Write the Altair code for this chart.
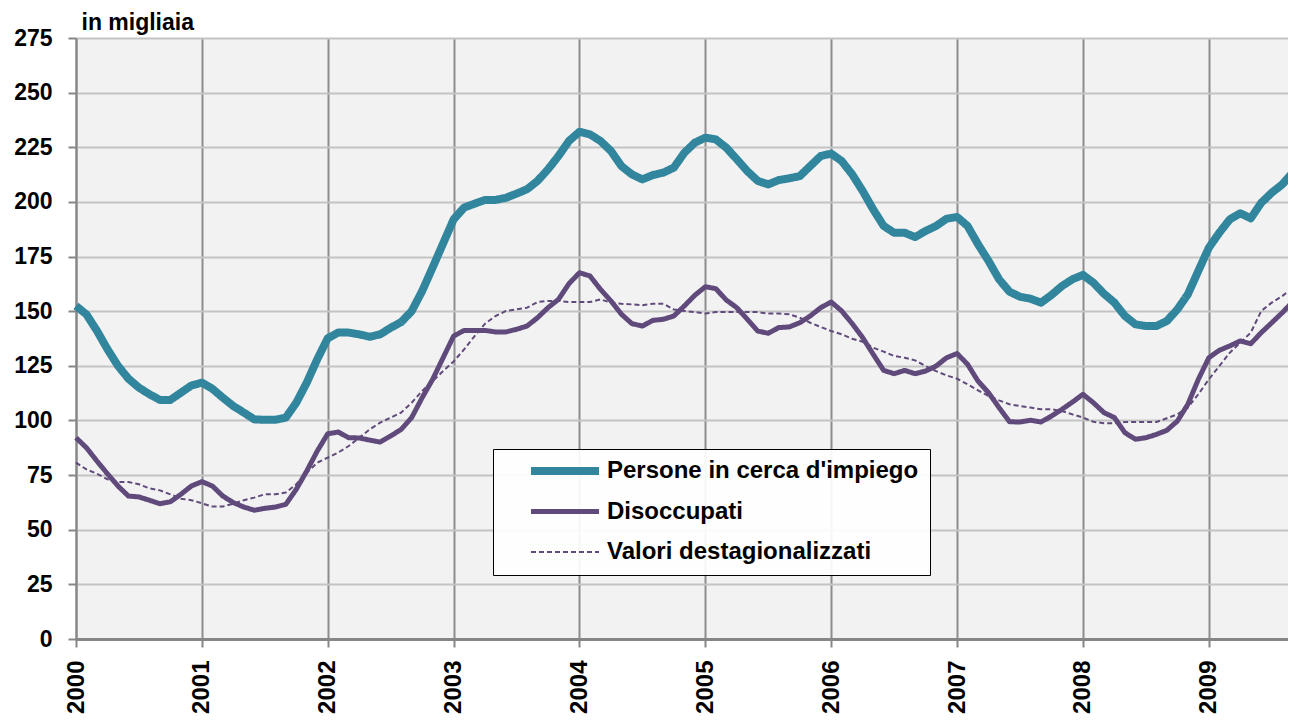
import altair as alt
import pandas as pd

series_names = ["Persone in cerca d'impiego", "Disoccupati", "Valori destagionalizzati"]
series_colors = ["#31859C", "#604A7B", "#604A7B"]
series_widths = [8, 5, 2]
series_dash = [[1, 0], [1, 0], [5, 3]]
draw_order = ["Persone in cerca d'impiego", "Valori destagionalizzati", "Disoccupati"]

# monthly values, Jan 2000 .. Sep 2009 (thousands)
persone = [
    152.4, 148.5, 141, 132.6, 125, 119.1, 115, 112, 109.4, 109.4, 112.7, 116,
    117.3, 114.5, 110.4, 106.6, 103.6, 100.5, 100.3, 100.3, 101.3, 108.1, 117.3, 128,
    137.6, 140.2, 140.2, 139.4, 138.3, 139.4, 142.4, 145, 150, 159.2, 170, 181,
    192, 197.4, 199.2, 200.9, 200.9, 201.9, 203.8, 205.8, 209.6, 214.9, 221, 227.9,
    232.1, 230.9, 227.9, 223.3, 216.4, 212.6, 210.3, 212.3, 213.4, 215.7, 222.5, 227.1,
    229.4, 228.6, 224.8, 219.5, 214.1, 209.6, 208, 210, 210.8, 211.8, 216.4, 221,
    222.1, 218.7, 212.6, 205, 196.6, 189, 185.9, 185.9, 183.9, 186.7, 189, 192.3,
    193.1, 189, 180.6, 173, 164.6, 158.9, 156.6, 155.7, 153.9, 157.4, 161.5, 164.6,
    166.6, 163, 158, 153.9, 147.8, 144, 143.2, 143.2, 145.5, 150.8, 157.7, 168.4,
    179, 185.9, 192, 194.8, 192.5, 199.6, 204.2, 208, 213.4,
]
disoccupati = [
    92.1, 87.5, 81.4, 75.6, 70, 65.4, 65, 63.5, 61.9, 62.8, 66.2, 70,
    72, 70, 65.4, 62.4, 60.4, 58.9, 59.8, 60.4, 61.6, 68.5, 76.9, 86,
    93.9, 94.7, 92.1, 92, 91, 90.1, 92.9, 95.9, 101.3, 110.4, 118.8, 128.7,
    138.6, 141.2, 141.2, 141.2, 140.5, 140.5, 141.7, 143.2, 147, 151.6, 155.4, 162.6,
    167.6, 166.1, 160, 154.7, 148.6, 144.3, 143.2, 145.8, 146.3, 147.8, 152.4, 157.3,
    161.2, 160.3, 155.1, 151.6, 146.3, 140.9, 139.9, 142.5, 142.8, 144.7, 147.8, 151.6,
    154.2, 150.1, 144.3, 137.9, 130.3, 122.9, 121.4, 122.9, 121.4, 122.6, 124.9, 128.7,
    130.6, 125.7, 118, 112.7, 105.9, 99.4, 99.3, 100.1, 99.3, 102, 105.1, 108.4,
    112, 108.1, 103.6, 101.3, 94.4, 91.4, 92.1, 93.6, 95.5, 99.7, 107.4, 118.8,
    128.7, 132.1, 134.1, 136.4, 135.1, 140.2, 144.7, 149.3, 154.3,
]
destagionalizzati = [
    80.7, 77.6, 75.6, 73.1, 71.8, 71.8, 70.8, 68.9, 68, 66.2, 64.2, 63.5,
    62.1, 60.6, 60.6, 61.9, 63.5, 64.7, 66.2, 66.2, 67, 70.8, 76.1, 80.7,
    83, 85.3, 88.3, 92.1, 95.9, 99, 101.3, 103.6, 108.1, 113.5, 118, 122.6,
    127, 132.5, 138.6, 144.3, 147.8, 150.1, 150.8, 151.6, 154.2, 154.7, 154.7, 154.2,
    154.2, 154.2, 155.4, 153.9, 153.4, 153.1, 152.7, 153.4, 153.4, 150.8, 150.1, 149.6,
    148.9, 149.6, 149.6, 149.6, 149.6, 149.6, 148.9, 148.9, 148.6, 147, 144.7, 142.8,
    140.9, 139.4, 137.4, 136, 133.3, 131.5, 129.5, 128.7, 127.5, 124.9, 122.6, 120.6,
    119.1, 116.5, 113.8, 111.2, 109.2, 107.4, 106.6, 105.9, 105.1, 105.1, 104.3, 102.8,
    101.3, 99.4, 98.7, 98.7, 99.3, 99.3, 99.3, 99.3, 101, 102.8, 105.9, 112,
    118.8, 124.9, 131, 135.6, 140.2, 150.1, 153.9, 156.9, 160.7,
]
year_tick_months = [0, 12, 24, 36, 48, 60, 72, 84, 96, 108]
y_ticks = [0, 25, 50, 75, 100, 125, 150, 175, 200, 225, 250, 275]

rows = []
for name, vals in zip(series_names, [persone, disoccupati, destagionalizzati]):
    for m, v in enumerate(vals):
        rows.append({"mese": m, "valore": v, "serie": name})
df = pd.DataFrame(rows)

FONT = "Liberation Sans"
# blank title placed to the right of the entries, only to widen the legend box
SPACER = "\u00a0" * 8

leg = alt.Legend(orient="none", legendX=417, legendY=411,
                 title=SPACER, titleOrient="right", titlePadding=0)

base = alt.Chart(df).mark_line(strokeJoin="round").encode(
    x=alt.X(
        "mese:Q",
        scale=alt.Scale(domain=[0, 115.55], nice=False, zero=False),
        axis=alt.Axis(
            values=year_tick_months,
            labelExpr="'' + (2000 + datum.value / 12)",
            labelAngle=270,
            labelFlush=False,
            labelOverlap=False,
            title=None,
        ),
    ),
    y=alt.Y(
        "valore:Q",
        scale=alt.Scale(domain=[0, 275], nice=False),
        axis=alt.Axis(
            values=y_ticks,
            title="in migliaia",
            titleAngle=0,
            titleX=5,
            titleY=-9,
            titleAlign="left",
            titleBaseline="alphabetic",
            labelFlush=False,
        ),
    ),
    color=alt.Color(
        "serie:N",
        scale=alt.Scale(domain=series_names, range=series_colors),
        legend=leg,
    ),
    strokeWidth=alt.StrokeWidth(
        "serie:N",
        scale=alt.Scale(type="ordinal", domain=series_names, range=series_widths),
        legend=leg,
    ),
    strokeDash=alt.StrokeDash(
        "serie:N",
        scale=alt.Scale(domain=series_names, range=series_dash),
        legend=leg,
    ),
)

layers = [base.transform_filter(alt.datum.serie == name) for name in draw_order]

chart = alt.layer(*layers).properties(
    width=1212,
    height=601,
    autosize=alt.AutoSizeParams(type="none"),
    padding={"left": 68, "top": 30, "right": 0, "bottom": 75},
).configure(
    background="white",
).configure_view(
    fill="#F2F2F2", stroke="transparent",
).configure_axis(
    labelFont=FONT, labelFontWeight="bold", labelColor="black",
    titleFont=FONT, titleFontWeight="bold", titleColor="black", titleFontSize=23,
    domainColor="#868686", tickColor="#868686", tickSize=8, tickWidth=2,
).configure_axisX(
    domainWidth=3, gridColor="#8C8C8C", gridWidth=2, labelFontSize=24, labelPadding=13,
).configure_axisY(
    domainWidth=2, gridColor="#C3C3C3", gridWidth=2, labelFontSize=23, labelPadding=16,
).configure_legend(
    symbolType="stroke",
    symbolSize=4624,
    symbolOffset=23,
    labelOffset=4,
    labelFont=FONT,
    labelFontWeight="bold",
    labelFontSize=24,
    labelColor="black",
    labelLimit=700,
    titleFont=FONT,
    titleFontSize=24,
    titleLimit=700,
    titleColor="white",
    padding=11,
    clipHeight=22,
    rowPadding=16.5,
    strokeColor="black",
    fillColor="rgba(255,255,255,0.92)",
)

chart.save("out.html", embed_options={"renderer": "svg", "actions": False})
